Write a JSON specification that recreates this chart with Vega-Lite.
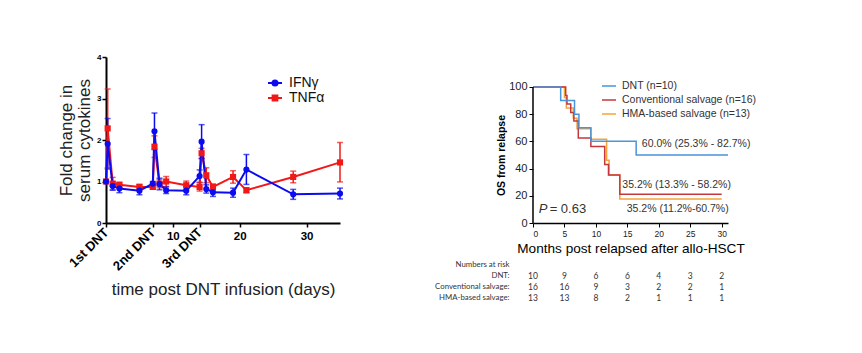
{
  "$schema": "https://vega.github.io/schema/vega-lite/v6.json",
  "padding": {"left": 57, "top": 53, "right": 0, "bottom": 0},
  "background": "white",
  "config": {"view": {"stroke": null}, "font": "Liberation Sans", "axis": {"grid": false}},
  "resolve": {"scale": {"color": "independent"}, "legend": {"color": "independent"}},
  "spacing": 90,
  "hconcat": [
    {
      "width": 234,
      "height": 166,
      "data": {"values": [
        {"series": "TNFα", "day": 0, "value": 1.0, "lo": 1.0, "hi": 1.0},
        {"series": "TNFα", "day": 0.25, "value": 2.28, "lo": 1.33, "hi": 3.23},
        {"series": "TNFα", "day": 1, "value": 0.95, "lo": 0.8, "hi": 1.1},
        {"series": "TNFα", "day": 2, "value": 0.92, "lo": 0.86, "hi": 0.98},
        {"series": "TNFα", "day": 5, "value": 0.87, "lo": 0.81, "hi": 0.93},
        {"series": "TNFα", "day": 7, "value": 0.87, "lo": 0.82, "hi": 0.92},
        {"series": "TNFα", "day": 7.25, "value": 1.84, "lo": 1.58, "hi": 2.1},
        {"series": "TNFα", "day": 8, "value": 0.95, "lo": 0.85, "hi": 1.05},
        {"series": "TNFα", "day": 9, "value": 1.0, "lo": 0.88, "hi": 1.12},
        {"series": "TNFα", "day": 12, "value": 0.91, "lo": 0.81, "hi": 1.01},
        {"series": "TNFα", "day": 14, "value": 0.87, "lo": 0.77, "hi": 0.97},
        {"series": "TNFα", "day": 14.3, "value": 1.68, "lo": 1.56, "hi": 1.8},
        {"series": "TNFα", "day": 15, "value": 1.15, "lo": 0.97, "hi": 1.33},
        {"series": "TNFα", "day": 16, "value": 0.87, "lo": 0.8, "hi": 0.94},
        {"series": "TNFα", "day": 19, "value": 1.11, "lo": 0.96, "hi": 1.26},
        {"series": "TNFα", "day": 21, "value": 0.79, "lo": 0.73, "hi": 0.85},
        {"series": "TNFα", "day": 28, "value": 1.11, "lo": 0.97, "hi": 1.25},
        {"series": "TNFα", "day": 35, "value": 1.46, "lo": 0.99, "hi": 1.94},
        {"series": "IFNγ", "day": 0, "value": 1.0, "lo": 1.0, "hi": 1.0},
        {"series": "IFNγ", "day": 0.25, "value": 1.91, "lo": 1.3, "hi": 2.52},
        {"series": "IFNγ", "day": 1, "value": 0.89, "lo": 0.79, "hi": 0.99},
        {"series": "IFNγ", "day": 2, "value": 0.83, "lo": 0.73, "hi": 0.93},
        {"series": "IFNγ", "day": 5, "value": 0.78, "lo": 0.68, "hi": 0.88},
        {"series": "IFNγ", "day": 7, "value": 0.95, "lo": 0.9, "hi": 1.0},
        {"series": "IFNγ", "day": 7.25, "value": 2.21, "lo": 1.77, "hi": 2.65},
        {"series": "IFNγ", "day": 8, "value": 0.94, "lo": 0.8, "hi": 1.08},
        {"series": "IFNγ", "day": 9, "value": 0.79, "lo": 0.71, "hi": 0.87},
        {"series": "IFNγ", "day": 12, "value": 0.78, "lo": 0.68, "hi": 0.88},
        {"series": "IFNγ", "day": 14, "value": 1.13, "lo": 0.98, "hi": 1.28},
        {"series": "IFNγ", "day": 14.3, "value": 1.96, "lo": 1.55, "hi": 2.37},
        {"series": "IFNγ", "day": 15, "value": 0.82, "lo": 0.72, "hi": 0.92},
        {"series": "IFNγ", "day": 16, "value": 0.74, "lo": 0.64, "hi": 0.84},
        {"series": "IFNγ", "day": 19, "value": 0.73, "lo": 0.62, "hi": 0.84},
        {"series": "IFNγ", "day": 21, "value": 1.29, "lo": 0.93, "hi": 1.65},
        {"series": "IFNγ", "day": 28, "value": 0.69, "lo": 0.57, "hi": 0.81},
        {"series": "IFNγ", "day": 35, "value": 0.71, "lo": 0.58, "hi": 0.84}
      ]},
      "encoding": {
        "x": {
          "field": "day", "type": "quantitative",
          "scale": {"domain": [0, 35], "nice": false},
          "axis": {
            "values": [0, 7, 10, 14, 20, 30],
            "title": "time post DNT infusion (days)",
            "titleFontSize": 17, "titleFontWeight": "normal", "titleColor": "#222", "titlePadding": 9,
            "labelExpr": "datum.value===0?'1st DNT':datum.value===7?'2nd DNT':datum.value===14?'3rd DNT':datum.label",
            "labelFontWeight": "bold", "labelColor": "black",
            "labelAngle": {"expr": "(datum.value===0||datum.value===7||datum.value===14)?-45:0"},
            "labelFontSize": {"condition": {"test": "datum.value===0||datum.value===7||datum.value===14", "value": 13}, "value": 11.5},
            "labelAlign": {"condition": {"test": "datum.value===0||datum.value===7||datum.value===14", "value": "right"}, "value": "center"},
            "labelBaseline": {"condition": {"test": "datum.value===0||datum.value===7||datum.value===14", "value": "middle"}, "value": "top"},
            "labelFlush": false, "labelOverlap": false, "labelPadding": 3,
            "tickSize": 4, "tickColor": "black", "tickWidth": 1.5,
            "domainColor": "black", "domainWidth": 2
          }
        }
      },
      "layer": [
        {
          "mark": {"type": "rule", "strokeWidth": 1.5},
          "encoding": {
            "y": {"field": "lo", "type": "quantitative", "scale": {"domain": [0, 4], "nice": false},
              "axis": {
                "values": [0, 1, 2, 3, 4],
                "title": ["Fold change in", "serum cytokines"],
                "titleFontSize": 17, "titleFontWeight": "normal", "titleColor": "#222",
                "titlePadding": 3, "titleLineHeight": 18,
                "labelFontSize": 8, "labelFontWeight": "bold", "labelColor": "black", "labelPadding": 1,
                "tickSize": 4, "tickColor": "black", "tickWidth": 1.5,
                "domainColor": "black", "domainWidth": 2
              }},
            "y2": {"field": "hi"},
            "stroke": {"field": "series", "type": "nominal", "scale": {"domain": ["IFNγ", "TNFα"], "range": ["#0b0bef", "#f21818"]}, "legend": null}
          }
        },
        {
          "mark": {"type": "tick", "orient": "horizontal", "size": 6, "thickness": 1.5},
          "encoding": {
            "y": {"field": "lo", "type": "quantitative", "scale": {"domain": [0, 4], "nice": false},
              "axis": {
                "values": [0, 1, 2, 3, 4],
                "title": ["Fold change in", "serum cytokines"],
                "titleFontSize": 17, "titleFontWeight": "normal", "titleColor": "#222",
                "titlePadding": 3, "titleLineHeight": 18,
                "labelFontSize": 8, "labelFontWeight": "bold", "labelColor": "black", "labelPadding": 1,
                "tickSize": 4, "tickColor": "black", "tickWidth": 1.5,
                "domainColor": "black", "domainWidth": 2
              }},
            "fill": {"field": "series", "type": "nominal", "scale": {"domain": ["IFNγ", "TNFα"], "range": ["#0b0bef", "#f21818"]}, "legend": null}
          }
        },
        {
          "mark": {"type": "tick", "orient": "horizontal", "size": 6, "thickness": 1.5},
          "encoding": {
            "y": {"field": "hi", "type": "quantitative", "scale": {"domain": [0, 4], "nice": false},
              "axis": {
                "values": [0, 1, 2, 3, 4],
                "title": ["Fold change in", "serum cytokines"],
                "titleFontSize": 17, "titleFontWeight": "normal", "titleColor": "#222",
                "titlePadding": 3, "titleLineHeight": 18,
                "labelFontSize": 8, "labelFontWeight": "bold", "labelColor": "black", "labelPadding": 1,
                "tickSize": 4, "tickColor": "black", "tickWidth": 1.5,
                "domainColor": "black", "domainWidth": 2
              }},
            "fill": {"field": "series", "type": "nominal", "scale": {"domain": ["IFNγ", "TNFα"], "range": ["#0b0bef", "#f21818"]}, "legend": null}
          }
        },
        {
          "mark": {"type": "line", "strokeWidth": 2},
          "encoding": {
            "y": {"field": "value", "type": "quantitative", "scale": {"domain": [0, 4], "nice": false},
              "axis": {
                "values": [0, 1, 2, 3, 4],
                "title": ["Fold change in", "serum cytokines"],
                "titleFontSize": 17, "titleFontWeight": "normal", "titleColor": "#222",
                "titlePadding": 3, "titleLineHeight": 18,
                "labelFontSize": 8, "labelFontWeight": "bold", "labelColor": "black", "labelPadding": 1,
                "tickSize": 4, "tickColor": "black", "tickWidth": 1.5,
                "domainColor": "black", "domainWidth": 2
              }},
            "stroke": {"field": "series", "type": "nominal", "scale": {"domain": ["IFNγ", "TNFα"], "range": ["#0b0bef", "#f21818"]}, "legend": null}
          }
        },
        {
          "mark": {"type": "point", "filled": true, "size": 38, "opacity": 1},
          "encoding": {
            "y": {"field": "value", "type": "quantitative", "scale": {"domain": [0, 4], "nice": false},
              "axis": {
                "values": [0, 1, 2, 3, 4],
                "title": ["Fold change in", "serum cytokines"],
                "titleFontSize": 17, "titleFontWeight": "normal", "titleColor": "#222",
                "titlePadding": 3, "titleLineHeight": 18,
                "labelFontSize": 8, "labelFontWeight": "bold", "labelColor": "black", "labelPadding": 1,
                "tickSize": 4, "tickColor": "black", "tickWidth": 1.5,
                "domainColor": "black", "domainWidth": 2
              }},
            "shape": {"field": "series", "type": "nominal", "scale": {"domain": ["IFNγ", "TNFα"], "range": ["circle", "square"]}, "legend": null},
            "color": {
              "field": "series", "type": "nominal",
              "scale": {"domain": ["IFNγ", "TNFα"], "range": ["#0b0bef", "#f21818"]},
              "legend": {
                "title": null, "orient": "none", "legendX": 161, "legendY": 18,
                "labelFontSize": 14, "labelColor": "#111", "labelFont": "Liberation Sans",
                "symbolSize": 196, "symbolStrokeWidth": 2, "labelOffset": 6, "rowPadding": 0, "padding": 0,
                "symbolType": {"expr": "datum.value==='IFNγ' ? 'M-1,0H1M0.36,0A0.36,0.36 0 1,1 -0.36,0A0.36,0.36 0 1,1 0.36,0Z' : 'M-1,0H1M-0.34,-0.34H0.34V0.34H-0.34Z'"},
                "symbolStrokeColor": {"expr": "datum.value==='IFNγ' ? '#0b0bef' : '#f21818'"},
                "symbolFillColor": {"expr": "datum.value==='IFNγ' ? '#0b0bef' : '#f21818'"}
              }
            }
          }
        }
      ]
    },
    {
      "spacing": 3,
      "vconcat": [
        {
          "width": 195,
          "height": 166,
          "resolve": {"axis": {"x": "independent", "y": "independent"}},
          "layer": [
            {
              "data": {"values": [
                {"group": "HMA-based salvage (n=13)", "month": 0, "surv": 100},
                {"group": "HMA-based salvage (n=13)", "month": 5.0, "surv": 92.3},
                {"group": "HMA-based salvage (n=13)", "month": 5.3, "surv": 84.6},
                {"group": "HMA-based salvage (n=13)", "month": 6.4, "surv": 76.9},
                {"group": "HMA-based salvage (n=13)", "month": 7.0, "surv": 69.2},
                {"group": "HMA-based salvage (n=13)", "month": 9.2, "surv": 61.5},
                {"group": "HMA-based salvage (n=13)", "month": 11.7, "surv": 46.2},
                {"group": "HMA-based salvage (n=13)", "month": 12.1, "surv": 35.2},
                {"group": "HMA-based salvage (n=13)", "month": 13.8, "surv": 17.6},
                {"group": "HMA-based salvage (n=13)", "month": 30, "surv": 17.6},
                {"group": "Conventional salvage (n=16)", "month": 0, "surv": 100},
                {"group": "Conventional salvage (n=16)", "month": 5.2, "surv": 93.75},
                {"group": "Conventional salvage (n=16)", "month": 5.4, "surv": 87.5},
                {"group": "Conventional salvage (n=16)", "month": 6.0, "surv": 81.25},
                {"group": "Conventional salvage (n=16)", "month": 6.5, "surv": 75},
                {"group": "Conventional salvage (n=16)", "month": 7.2, "surv": 62.5},
                {"group": "Conventional salvage (n=16)", "month": 9.2, "surv": 56.25},
                {"group": "Conventional salvage (n=16)", "month": 11.4, "surv": 43.0},
                {"group": "Conventional salvage (n=16)", "month": 12.0, "surv": 35.2},
                {"group": "Conventional salvage (n=16)", "month": 13.8, "surv": 21.1},
                {"group": "Conventional salvage (n=16)", "month": 30, "surv": 21.1},
                {"group": "DNT (n=10)", "month": 0, "surv": 100},
                {"group": "DNT (n=10)", "month": 4.4, "surv": 90},
                {"group": "DNT (n=10)", "month": 6.6, "surv": 80},
                {"group": "DNT (n=10)", "month": 7.3, "surv": 70},
                {"group": "DNT (n=10)", "month": 9.2, "surv": 60},
                {"group": "DNT (n=10)", "month": 16.4, "surv": 50},
                {"group": "DNT (n=10)", "month": 31, "surv": 50}
              ]},
              "mark": {"type": "line", "interpolate": "step-after", "strokeWidth": 1.5},
              "encoding": {
                "x": {
                  "field": "month", "type": "quantitative",
                  "scale": {"domain": [0, 31], "nice": false},
                  "axis": {
                    "values": [0, 5, 10, 15, 20, 25, 30],
                    "labelOverlap": false,
                    "title": "Months post relapsed after allo-HSCT",
                    "titleFontSize": 13.6, "titleFontWeight": "normal", "titleColor": "black", "titlePadding": 4,
                    "labelFontSize": 8.5, "labelColor": "#222", "labelPadding": 2,
                    "tickSize": 4, "tickColor": "black", "tickWidth": 1,
                    "domainColor": "black", "domainWidth": 1.5
                  }
                },
                "y": {
                  "field": "surv", "type": "quantitative",
                  "scale": {"domain": [0, 122], "nice": false},
                  "axis": {
                    "values": [0, 20, 40, 60, 80, 100],
                    "domain": false,
                    "labelOverlap": false,
                    "title": "OS from relapse",
                    "titleFontSize": 10.5, "titleFontWeight": "bold", "titleColor": "black",
                    "titleY": 98, "titlePadding": 2,
                    "labelFontSize": 11, "labelColor": "#222", "labelPadding": 2,
                    "tickSize": 4, "tickColor": "black", "tickWidth": 1
                  }
                },
                "color": {
                  "field": "group", "type": "nominal",
                  "scale": {
                    "domain": ["DNT (n=10)", "Conventional salvage (n=16)", "HMA-based salvage (n=13)"],
                    "range": ["#4a93dd", "#c4373f", "#f3a33a"]
                  },
                  "legend": {
                    "title": null, "orient": "none", "legendX": 68, "legendY": 21,
                    "symbolType": "stroke", "symbolSize": 196, "symbolStrokeWidth": 1.5,
                    "labelFontSize": 10.5, "labelColor": "#333", "labelOffset": 5,
                    "rowPadding": 0, "padding": 0
                  }
                }
              }
            },
            {
              "data": {"values": [{}]},
              "mark": {"type": "rule", "color": "black", "strokeWidth": 1.5},
              "encoding": {"x": {"datum": 0, "axis": null}, "y": {"datum": 0, "axis": null}, "y2": {"datum": 100}}
            },
            {
              "data": {"values": [{}]},
              "mark": {"type": "text", "align": "left", "baseline": "middle", "fontSize": 10.5, "color": "#333"},
              "encoding": {"x": {"datum": 17.3, "axis": null}, "y": {"datum": 58.3, "axis": null}, "text": {"value": "60.0% (25.3% - 82.7%)"}}
            },
            {
              "data": {"values": [{}]},
              "mark": {"type": "text", "align": "left", "baseline": "middle", "fontSize": 10.5, "color": "#333"},
              "encoding": {"x": {"datum": 14.2, "axis": null}, "y": {"datum": 27.9, "axis": null}, "text": {"value": "35.2% (13.3% - 58.2%)"}}
            },
            {
              "data": {"values": [{}]},
              "mark": {"type": "text", "align": "left", "baseline": "middle", "fontSize": 10.5, "color": "#333"},
              "encoding": {"x": {"datum": 14.9, "axis": null}, "y": {"datum": 10.1, "axis": null}, "text": {"value": "35.2% (11.2%-60.7%)"}}
            },
            {
              "data": {"values": [{}]},
              "mark": {"type": "text", "align": "left", "baseline": "middle", "fontSize": 13, "fontStyle": "italic", "color": "#333"},
              "encoding": {"x": {"datum": 0.9, "axis": null}, "y": {"datum": 10.1, "axis": null}, "text": {"value": "P"}}
            },
            {
              "data": {"values": [{}]},
              "mark": {"type": "text", "align": "left", "baseline": "middle", "fontSize": 13, "color": "#333", "dx": 11},
              "encoding": {"x": {"datum": 0.9, "axis": null}, "y": {"datum": 10.1, "axis": null}, "text": {"value": "= 0.63"}}
            }
          ]
        },
        {
          "width": 195,
          "height": 44,
          "data": {"values": [
            {"row": "DNT:", "month": 0, "n": 10},
            {"row": "DNT:", "month": 5, "n": 9},
            {"row": "DNT:", "month": 10, "n": 6},
            {"row": "DNT:", "month": 15, "n": 6},
            {"row": "DNT:", "month": 20, "n": 4},
            {"row": "DNT:", "month": 25, "n": 3},
            {"row": "DNT:", "month": 30, "n": 2},
            {"row": "Conventional salvage:", "month": 0, "n": 16},
            {"row": "Conventional salvage:", "month": 5, "n": 16},
            {"row": "Conventional salvage:", "month": 10, "n": 9},
            {"row": "Conventional salvage:", "month": 15, "n": 3},
            {"row": "Conventional salvage:", "month": 20, "n": 2},
            {"row": "Conventional salvage:", "month": 25, "n": 2},
            {"row": "Conventional salvage:", "month": 30, "n": 1},
            {"row": "HMA-based salvage:", "month": 0, "n": 13},
            {"row": "HMA-based salvage:", "month": 5, "n": 13},
            {"row": "HMA-based salvage:", "month": 10, "n": 8},
            {"row": "HMA-based salvage:", "month": 15, "n": 2},
            {"row": "HMA-based salvage:", "month": 20, "n": 1},
            {"row": "HMA-based salvage:", "month": 25, "n": 1},
            {"row": "HMA-based salvage:", "month": 30, "n": 1}
          ]},
          "mark": {"type": "text", "font": "Lato", "fontSize": 8.5, "color": "#333"},
          "encoding": {
            "x": {"field": "month", "type": "quantitative", "scale": {"domain": [0, 31], "nice": false}, "axis": null},
            "y": {
              "field": "row", "type": "nominal",
              "scale": {"domain": ["Numbers at risk", "DNT:", "Conventional salvage:", "HMA-based salvage:"], "paddingInner": 0, "paddingOuter": 0},
              "axis": {"title": null, "domain": false, "ticks": false, "labelFont": "Lato", "labelFontSize": 7.8, "labelColor": "#333", "labelPadding": 24}
            },
            "text": {"field": "n", "type": "quantitative"}
          }
        }
      ]
    }
  ]
}
